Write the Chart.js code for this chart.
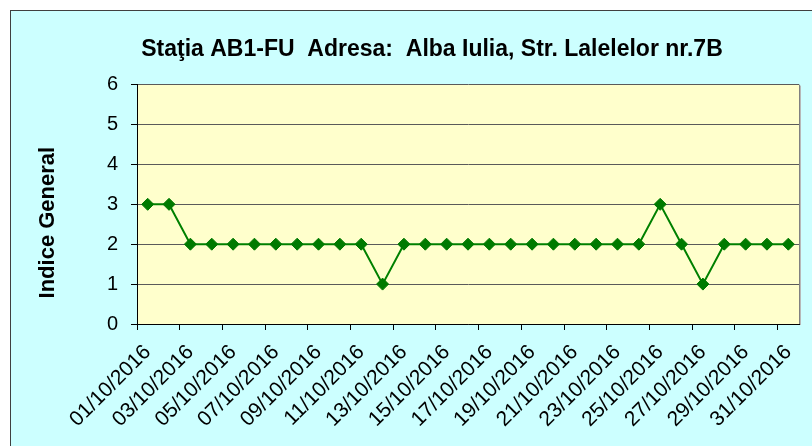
<!DOCTYPE html>
<html>
<head>
<meta charset="utf-8">
<script src="https://cdn.jsdelivr.net/npm/chart.js"></script>
<style>
html, body { margin:0; padding:0; background:#fff; overflow:hidden; width:812px; height:446px; }
#box { position:absolute; left:10px; top:10px; width:900px; height:450px; border:1px solid #404040; background:#ccffff; overflow:hidden; }
canvas { position:absolute; left:0; top:0; }
</style>
</head>
<body>
<div id="box"><canvas id="myChart" width="844" height="435"></canvas></div>
<script>
// data
var dates = ['01/10/2016','02/10/2016','03/10/2016','04/10/2016','05/10/2016','06/10/2016','07/10/2016','08/10/2016',
  '09/10/2016','10/10/2016','11/10/2016','12/10/2016','13/10/2016','14/10/2016','15/10/2016','16/10/2016',
  '17/10/2016','18/10/2016','19/10/2016','20/10/2016','21/10/2016','22/10/2016','23/10/2016','24/10/2016',
  '25/10/2016','26/10/2016','27/10/2016','28/10/2016','29/10/2016','30/10/2016','31/10/2016']
var indiceGeneral = [3,3,2,2,2,2,2,2,2,2,2,1,2,2,2,2,2,2,2,2,2,2,2,2,3,2,1,2,2,2,2]
var yTicks = [0,1,2,3,4,5,6]

var chartTitle = 'Staţia AB1-FU  Adresa:  Alba Iulia, Str. Lalelelor nr.7B'
var yTitle = 'Indice General'

Chart.defaults.font.family = 'Arial, "Liberation Sans", sans-serif'
Chart.defaults.color = '#000'

// yellow plot area + right border
var plotBg = {
  id: 'plotBg',
  beforeDraw: function(chart){
    var ctx = chart.ctx, a = chart.chartArea
    ctx.save()
    ctx.fillStyle = '#ffffcc'
    ctx.fillRect(a.left, a.top, a.right - a.left, a.bottom - a.top)
    ctx.restore()
  },
  afterDraw: function(chart){
    var ctx = chart.ctx, a = chart.chartArea
    ctx.save()
    ctx.strokeStyle = '#808080'
    ctx.lineWidth = 1
    ctx.beginPath(); ctx.moveTo(a.right + 0.5, a.top); ctx.lineTo(a.right + 0.5, a.bottom); ctx.stroke()
    ctx.strokeStyle = '#b8b8b8'
    ctx.beginPath(); ctx.moveTo(a.right + 1.5, a.top + 1); ctx.lineTo(a.right + 1.5, a.bottom + 1); ctx.stroke()
    ctx.restore()
  }
}

var ctxx = document.getElementById('myChart').getContext('2d')
var chart = new Chart(ctxx, {
  type: 'line',
  data: {
    labels: dates,
    datasets: [{
      label: yTitle,
      data: indiceGeneral,
      borderColor: '#008000',
      borderWidth: 2,
      pointStyle: 'rectRot',
      pointRadius: 6,
      pointBorderWidth: 1,
      pointBackgroundColor: '#007a00',
      pointBorderColor: '#007a00',
      tension: 0
    }]
  },
  options: {
    responsive: false,
    animation: false,
    layout: { padding: { left: 54, right: 56, top: 0, bottom: 0 } },
    plugins: {
      legend: { display: false },
      tooltip: { enabled: false },
      title: {
        display: true,
        text: chartTitle,
        color: '#000',
        font: { size: 23, weight: 'bold' },
        padding: { top: 25, bottom: 21 }
      }
    },
    scales: {
      x: {
        offset: true,
        ticks: {
          autoSkip: false, minRotation: 45, maxRotation: 45,
          color: '#000', font: { size: 21 }, padding: 10,
          callback: function(v, i){ return i % 2 === 0 ? dates[i] : '' }
        },
        grid: {
          offset: true, drawOnChartArea: false, tickLength: 6,
          tickColor: function(c){ return c.index % 2 === 0 ? '#000' : 'rgba(0,0,0,0)' }
        },
        border: { color: '#000' },
        afterFit: function(s){ s.height = 122 }
      },
      y: {
        min: yTicks[0], max: yTicks[yTicks.length - 1],
        ticks: { stepSize: 1, color: '#000', font: { size: 20 }, padding: 13 },
        grid: { color: '#5a5a5a', tickColor: '#000', tickLength: 6 },
        border: { color: '#000' },
        title: {
          display: true,
          text: yTitle + '      ',
          color: '#000',
          font: { size: 22, weight: 'bold' },
          padding: { top: -30, bottom: 0 }
        },
        afterFit: function(s){ s.width = 72 }
      }
    }
  },
  plugins: [plotBg]
})
</script>
</body>
</html>
